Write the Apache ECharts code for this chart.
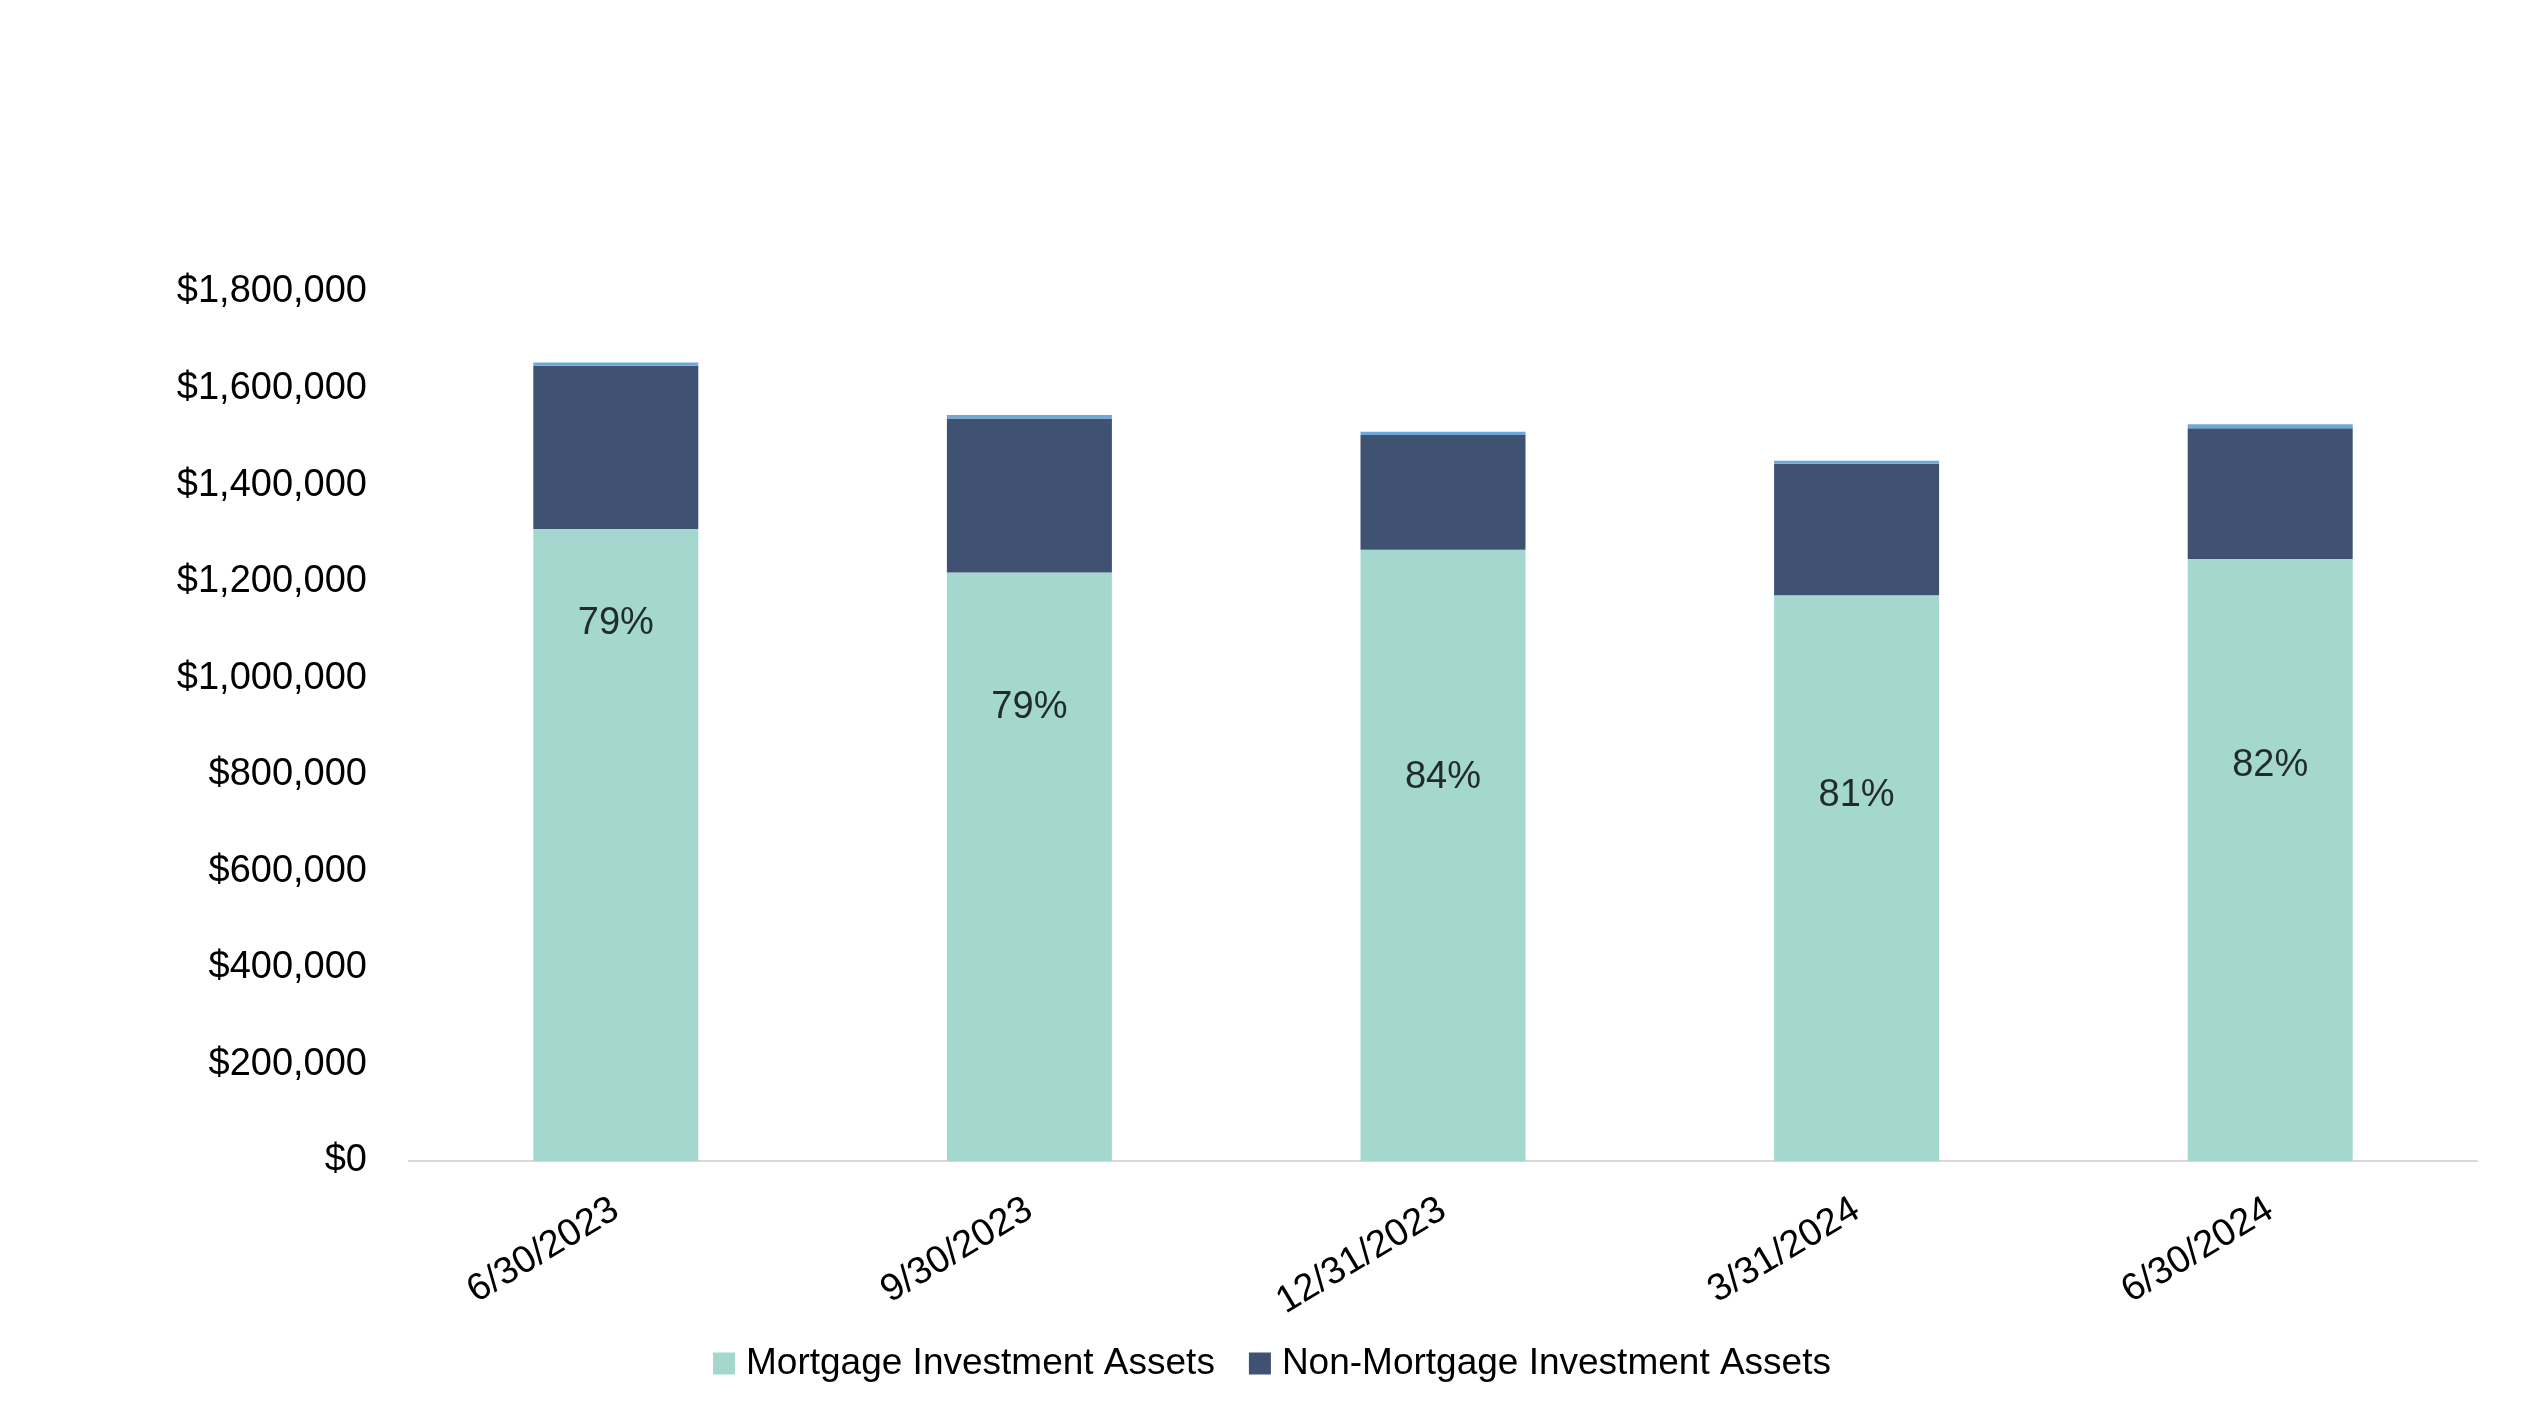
<!DOCTYPE html>
<html>
<head>
<meta charset="utf-8">
<script src="https://cdn.jsdelivr.net/npm/echarts@6/dist/echarts.min.js"></script>
<style>
  html, body { margin: 0; padding: 0; background: #fff; }
  #chart { width: 2544px; height: 1425px; }
</style>
</head>
<body>
<div id="chart"></div>
<script>
// quarter-end dates
const categories = ['6/30/2023', '9/30/2023', '12/31/2023', '3/31/2024', '6/30/2024']
// values
const mortgage = [1309000, 1219000, 1266000, 1172000, 1247000]
const nonMortgage = [338000, 319000, 238000, 272000, 271000]
const other = [7000, 7000, 6500, 6500, 8000]
// share labels and the value height where each one sits
const shareLabels = ['79%', '79%', '84%', '81%', '82%']
const labelAt = [1114000, 940000, 795000, 758000, 819000]

const font = 'Liberation Sans, Arial, sans-serif'

const chart = echarts.init(document.getElementById('chart'))
chart.setOption({
  animation: false,
  textStyle: { fontFamily: font },
  grid: { left: 409, right: 67, top: 292, bottom: 264 },
  legend: {
    data: ['Mortgage Investment Assets', 'Non-Mortgage Investment Assets'],
    left: 'center',
    top: 1340,
    itemWidth: 22,
    itemHeight: 22,
    itemGap: 34,
    icon: 'rect',
    textStyle: { color: '#000', fontSize: 37, fontFamily: font, padding: [0, 0, 0, 6] }
  },
  xAxis: {
    type: 'category',
    data: categories,
    axisTick: { show: false },
    axisLine: { lineStyle: { color: '#d9d9d9', width: 2 } },
    axisLabel: { color: '#000', fontSize: 38, rotate: 31, margin: 46, fontFamily: font }
  },
  yAxis: {
    type: 'value',
    min: 0,
    max: 1800000,
    interval: 200000,
    axisLine: { show: false },
    axisTick: { show: false },
    splitLine: { show: false },
    axisLabel: {
      color: '#000',
      fontSize: 38,
      margin: 42,
      padding: [6, 0, 0, 0],
      fontFamily: font,
      formatter: v => '$' + v.toLocaleString('en-US')
    }
  },
  series: [
    {
      name: 'Mortgage Investment Assets',
      type: 'bar',
      stack: 'total',
      barWidth: 165,
      data: mortgage,
      itemStyle: { color: '#a4d8cf' }
    },
    {
      name: 'Non-Mortgage Investment Assets',
      type: 'bar',
      stack: 'total',
      data: nonMortgage,
      itemStyle: { color: '#3f5272' }
    },
    {
      name: 'Other',
      type: 'bar',
      stack: 'total',
      data: other,
      itemStyle: { color: '#6ea8da' }
    },
    {
      name: 'Share',
      type: 'scatter',
      symbolSize: 0,
      data: labelAt,
      label: {
        show: true,
        position: 'inside',
        color: '#000',
        fontSize: 38,
        fontFamily: font,
        formatter: p => shareLabels[p.dataIndex]
      }
    }
  ]
})
</script>
</body>
</html>
